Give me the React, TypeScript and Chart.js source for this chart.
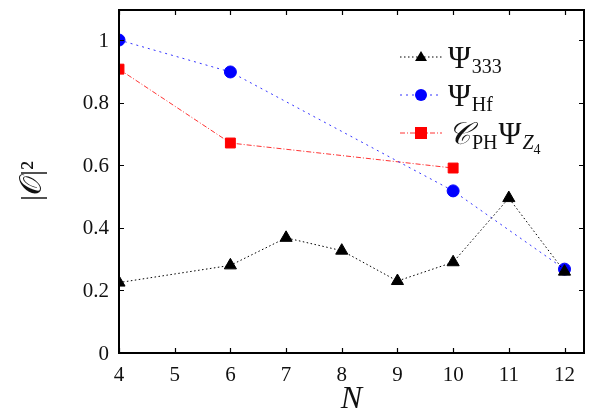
import React, { useEffect, useRef } from "react";
import { Chart, registerables } from "chart.js";

Chart.register(...registerables);

const nPsi333 = [4, 6, 7, 8, 9, 10, 11, 12];
const psi333 = [0.225, 0.28, 0.368, 0.327, 0.23, 0.29, 0.495, 0.26];
const nHf = [4, 6, 10, 12];
const psiHf = [1.0, 0.898, 0.518, 0.268];
const nZ4 = [4, 6, 10];
const psiZ4 = [0.907, 0.671, 0.591];
const xTicks = [4, 5, 6, 7, 8, 9, 10, 11, 12];
const yTicks = [0, 0.2, 0.4, 0.6, 0.8, 1];

const FONT = "'Liberation Serif', 'DejaVu Serif', serif";

const framePlugin = {
  id: "frame",
  afterDraw(chart: any) {
    const { ctx, chartArea: a, scales } = chart;
    const x = scales.x, y = scales.y;
    ctx.save();
    ctx.strokeStyle = "#000";
    ctx.lineWidth = 2;
    ctx.strokeRect(a.left, a.top, a.right - a.left, a.bottom - a.top);
    ctx.lineWidth = 1.2;
    const tl = 5;
    ctx.beginPath();
    for (const v of xTicks) {
      const px = Math.round(x.getPixelForValue(v)) + 0.5;
      ctx.moveTo(px, a.bottom); ctx.lineTo(px, a.bottom - tl);
      ctx.moveTo(px, a.top); ctx.lineTo(px, a.top + tl);
    }
    for (const v of yTicks) {
      const py = Math.round(y.getPixelForValue(v)) + 0.5;
      ctx.moveTo(a.left, py); ctx.lineTo(a.left + tl, py);
      ctx.moveTo(a.right, py); ctx.lineTo(a.right - tl, py);
    }
    ctx.stroke();

    // tick labels
    ctx.fillStyle = "#111";
    ctx.font = `21px ${FONT}`;
    ctx.textAlign = "center";
    ctx.textBaseline = "middle";
    for (const v of xTicks) {
      ctx.fillText(String(v), x.getPixelForValue(v), a.bottom + 22);
    }
    ctx.textAlign = "right";
    for (const v of yTicks) {
      ctx.fillText(String(v), a.left - 10, y.getPixelForValue(v) + 1);
    }
    // axis titles
    ctx.textAlign = "center";
    ctx.font = `italic 32px ${FONT}`;
    ctx.fillText("N", (a.left + a.right) / 2, a.bottom + 47);
    ctx.save();
    ctx.translate(33, 181);
    ctx.rotate(-Math.PI / 2);
    ctx.font = `30px ${FONT}`;
    ctx.textAlign = "center";
    ctx.fillText("|𝒪|²", 0, 0);
    ctx.restore();

    // legend
    const rows = [
      { ds: 0, y: 57, main: "Ψ", sub: "333", pre: "", preSub: "" },
      { ds: 1, y: 95, main: "Ψ", sub: "Hf", pre: "", preSub: "" },
      { ds: 2, y: 133, main: "Ψ", sub: "Z", pre: "𝒞", preSub: "PH" },
    ];
    const lx0 = 400, lx1 = 442, mx = 421;
    for (const r of rows) {
      const ds = chart.data.datasets[r.ds];
      ctx.save();
      ctx.strokeStyle = ds.borderColor;
      ctx.lineWidth = ds.borderWidth;
      ctx.setLineDash(ds.borderDash);
      ctx.beginPath();
      ctx.moveTo(lx0, r.y); ctx.lineTo(lx1, r.y);
      ctx.stroke();
      ctx.setLineDash([]);
      ctx.fillStyle = ds.pointBackgroundColor;
      const s = ds.pointStyle;
      if (s === "triangle") {
        ctx.beginPath();
        ctx.moveTo(mx, r.y - 6); ctx.lineTo(mx + 6, r.y + 4); ctx.lineTo(mx - 6, r.y + 4);
        ctx.closePath(); ctx.fill();
      } else if (s === "circle") {
        ctx.beginPath(); ctx.arc(mx, r.y, 6, 0, Math.PI * 2); ctx.fill();
      } else {
        ctx.fillRect(mx - 6, r.y - 6, 12, 12);
      }
      ctx.restore();
      ctx.fillStyle = "#111";
      ctx.textAlign = "left";
      ctx.textBaseline = "alphabetic";
      let tx = 448;
      const base = r.y + 11;
      if (r.pre) {
        ctx.font = `italic 31px ${FONT}`;
        ctx.fillText(r.pre, tx, base);
        tx += ctx.measureText(r.pre).width + 1;
        ctx.font = `20px ${FONT}`;
        ctx.fillText(r.preSub, tx, base + 5);
        tx += ctx.measureText(r.preSub).width + 1;
      }
      ctx.font = `31px ${FONT}`;
      ctx.fillText(r.main, tx, base);
      tx += ctx.measureText(r.main).width + 1;
      ctx.font = r.pre ? `italic 20px ${FONT}` : `20px ${FONT}`;
      ctx.fillText(r.sub, tx, base + 5);
      if (r.pre) {
        tx += ctx.measureText(r.sub).width;
        ctx.font = `14px ${FONT}`;
        ctx.fillText("4", tx, base + 10);
      }
    }
    ctx.restore();
  },
};

export default function App() {
  const ref = useRef<HTMLCanvasElement>(null);
  useEffect(() => {
    document.body.style.margin = "0";
    const toXY = (xs: number[], ys: number[]) => xs.map((x, i) => ({ x, y: ys[i] }));
    const chart = new Chart(ref.current!, {
      type: "line",
      data: {
        datasets: [
          {
            label: "Ψ333",
            data: toXY(nPsi333, psi333),
            borderColor: "#000",
            backgroundColor: "#000",
            pointBackgroundColor: "#000",
            pointBorderColor: "#000",
            borderWidth: 1,
            borderDash: [1.5, 2.5],
            pointStyle: "triangle",
            pointRadius: 7,
            tension: 0,
          },
          {
            label: "ΨHf",
            data: toXY(nHf, psiHf),
            borderColor: "#3333ff",
            backgroundColor: "#0000ff",
            pointBackgroundColor: "#0000ff",
            pointBorderColor: "#0000ff",
            borderWidth: 1,
            borderDash: [2, 4],
            pointStyle: "circle",
            pointRadius: 6,
            tension: 0,
          },
          {
            label: "CPH ΨZ4",
            data: toXY(nZ4, psiZ4),
            borderColor: "#ff3333",
            backgroundColor: "#ff0000",
            pointBackgroundColor: "#ff0000",
            pointBorderColor: "#ff0000",
            borderWidth: 1,
            borderDash: [5, 2, 1, 2],
            pointStyle: "rect",
            pointRadius: 7,
            tension: 0,
          },
        ],
      },
      options: {
        animation: false,
        responsive: false,
        devicePixelRatio: 1,
        layout: { padding: { left: 0, right: 7, top: 10, bottom: 0 } },
        plugins: { legend: { display: false }, tooltip: { enabled: false } },
        scales: {
          x: {
            type: "linear",
            min: 4,
            max: 12.35,
            grid: { display: false },
            border: { display: false },
            ticks: { display: false },
            afterFit(s: any) { s.height = 58; },
          },
          y: {
            type: "linear",
            min: 0,
            max: 1.096,
            grid: { display: false },
            border: { display: false },
            ticks: { display: false },
            afterFit(s: any) { s.width = 119; },
          },
        },
      },
      plugins: [framePlugin],
    } as any);
    return () => chart.destroy();
  }, []);
  return (
    <div style={{ width: 592, height: 411 }}>
      <canvas ref={ref} width={592} height={411} style={{ width: 592, height: 411 }} />
    </div>
  );
}
